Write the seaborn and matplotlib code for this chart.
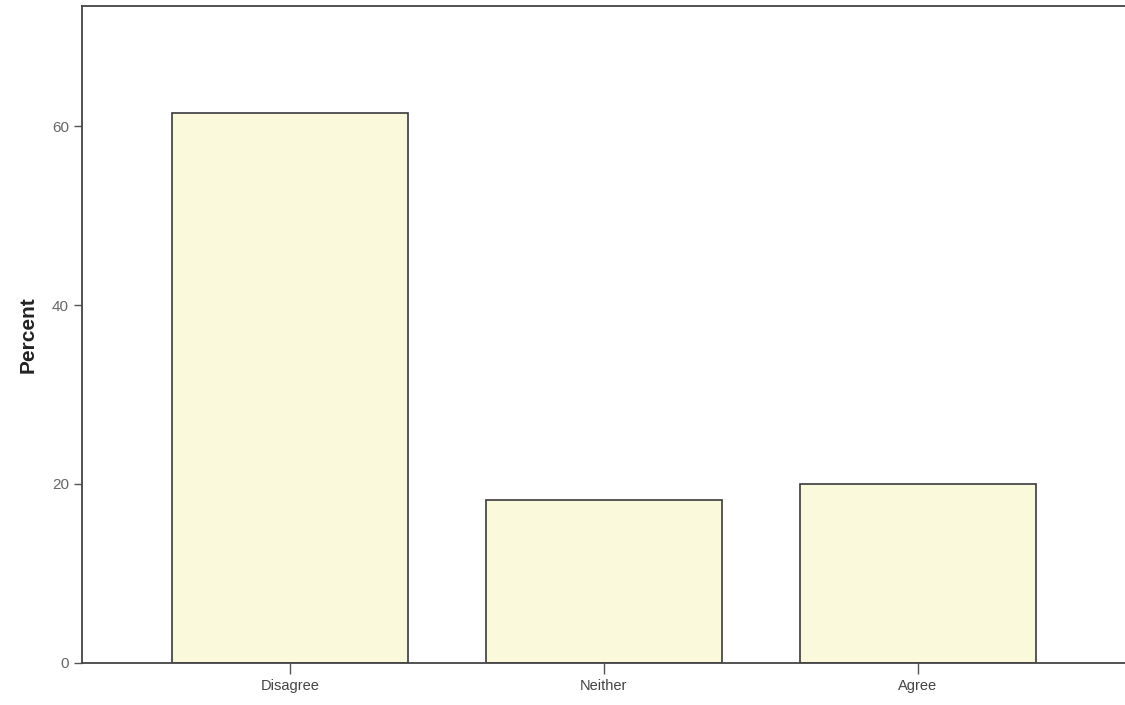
import matplotlib
matplotlib.use("Agg")
import matplotlib.pyplot as plt
import seaborn as sns
import pandas as pd

# Data
categories = ["Disagree", "Neither", "Agree"]
percent = [61.5, 18.2, 20.0]
y_ticks = [0, 20, 40, 60]

df = pd.DataFrame({"category": categories, "percent": percent})

sns.set_style("white")
plt.rcParams["font.family"] = ["Liberation Sans", "DejaVu Sans"]

fig = plt.figure(figsize=(11.25, 7.05), dpi=100)
ax = fig.add_axes([0.073, 0.06, 0.927, 0.932])

sns.barplot(data=df, x="category", y="percent", color="#FBF9DC",
            saturation=1, width=0.75, edgecolor="#3a3a3a", linewidth=1.2, ax=ax)

ax.set_xlim(-0.662, 2.66)
ax.set_ylim(0, 73.5)
ax.set_yticks(y_ticks)
ax.set_xlabel("")
ax.set_ylabel("Percent", fontsize=15, fontweight="bold", color="#222222", labelpad=10)

for side in ["left", "bottom", "top"]:
    ax.spines[side].set_color("#444444")
    ax.spines[side].set_linewidth(1.3)
ax.spines["right"].set_visible(False)

ax.tick_params(axis="x", direction="out", length=8, width=1, color="#555555",
               labelsize=10.5, labelcolor="#444444", bottom=True)
ax.tick_params(axis="y", direction="out", length=6, width=1, color="#555555",
               labelsize=11, labelcolor="#666666", left=True)

plt.savefig("out.png", dpi=100)
